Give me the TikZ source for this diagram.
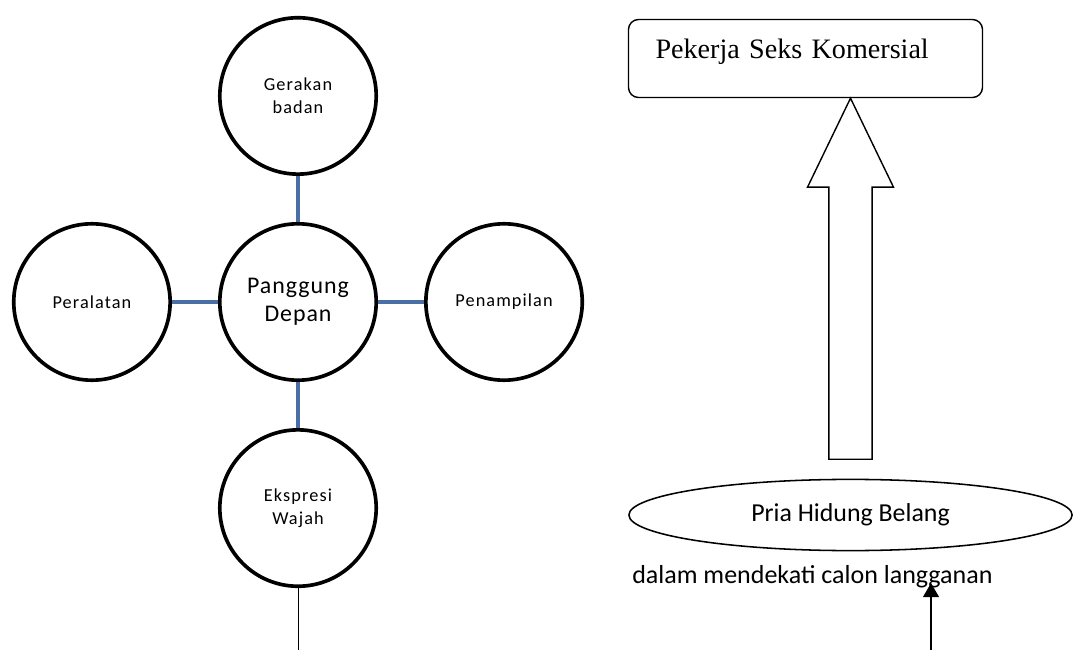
\documentclass[tikz,border=0pt]{standalone}
\usepackage{fontspec}
\setmainfont{Carlito}
\newfontfamily\kecil[LetterSpace=6]{Carlito}
\newfontfamily\besar[LetterSpace=4]{Carlito}
\newfontfamily\serif{Liberation Serif}
\usepackage{xcolor}
\definecolor{linkblue}{HTML}{4A6FA5}
\usetikzlibrary{arrows.meta,positioning,shapes.geometric}

\begin{document}
\begin{tikzpicture}[>=Latex,node distance=1.15cm]
\tikzset{
 circ/.style={circle,draw,line width=2.6pt,minimum size=3.91cm,align=center,font=\kecil\fontsize{13}{16}\selectfont},
 link/.style={draw=linkblue,line width=3pt},
 box/.style={draw,line width=1pt,rounded corners=0.25cm,minimum width=8.85cm,minimum height=1.95cm,text width=7.5cm,align=left,text height=14pt,text depth=14pt,font=\serif\fontsize{20}{24}\selectfont},
 oval/.style={ellipse,draw,line width=1.1pt,minimum width=11.08cm,minimum height=1.78cm,font=\fontsize{18.4}{22}\selectfont},
 arrow/.style={-{Triangle[length=10pt,width=11pt]},line width=2pt}
}
\useasboundingbox (0,0) rectangle (26.825,16.25);

% panggung depan
\node[circ,font=\besar\fontsize{17}{20}\selectfont] (pd) at (7.45,8.7) {Panggung\\Depan};
\node[circ,above=of pd] (gb) {Gerakan\\badan};
\node[circ,left=of pd] (pl) {Peralatan};
\node[circ,right=of pd] (pn) {Penampilan};
\node[circ,below=of pd] (ew) {Ekspresi\\Wajah};
\draw[link] (gb)--(pd);
\draw[link] (pl)--(pd);
\draw[link] (pd)--(pn);
\draw[link] (pd)--(ew);
\coordinate (ujung) at (ew.south |- 0,0);
\draw[line width=0.7pt] (ew)--(ujung);

% psk
\node[box] (psk) at (20.1375,14.7875) {Pekerja Seks Komersial};
\node[oval] (phb) at (21.2625,3.375) {Pria Hidung Belang};
\coordinate (puncak) at (psk.south -| phb.north);
\draw[line width=1pt,line join=miter] (puncak) -- ++(-1.075,-2.225) -- ++(0.535,0) -- ++(0,-6.8)
  -- ++(1.08,0) -- ++(0,6.8) -- ++(0.535,0) -- cycle;
\node[anchor=base west,inner sep=0pt,font=\fontsize{18.5}{22}\selectfont] (txt) at (15.8,1.675) {dalam mendekati calon langganan};
\coordinate (src) at (23.275,0);
\draw[arrow] (src)--(src |- txt.base);
\end{tikzpicture}
\end{document}
